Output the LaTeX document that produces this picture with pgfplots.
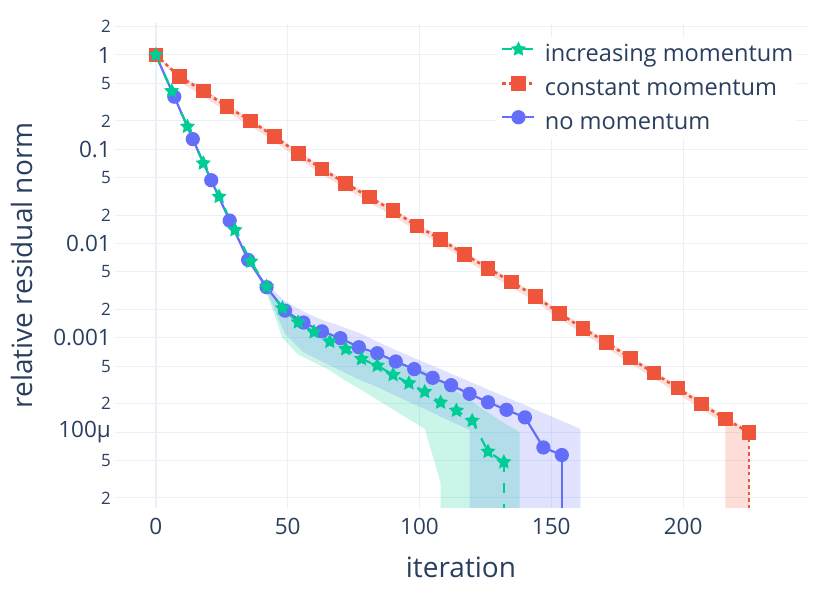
\documentclass[border=0pt]{standalone}
\usepackage{fontspec}
\setmainfont{Open Sans}
\usepackage{pgfplots}
\pgfplotsset{compat=1.18}
\definecolor{txt}{HTML}{2A3F5F}
\definecolor{gridc}{HTML}{EBF0F8}
\definecolor{pblue}{HTML}{636EFA}
\definecolor{pred}{HTML}{EF553B}
\definecolor{pgreen}{HTML}{00CC96}
\pgfdeclareplotmark{fstar}{%
  \pgfpathmoveto{\pgfpointpolar{90}{\pgfplotmarksize}}%
  \pgfpathlineto{\pgfpointpolar{126}{0.5\pgfplotmarksize}}%
  \pgfpathlineto{\pgfpointpolar{162}{\pgfplotmarksize}}%
  \pgfpathlineto{\pgfpointpolar{198}{0.5\pgfplotmarksize}}%
  \pgfpathlineto{\pgfpointpolar{234}{\pgfplotmarksize}}%
  \pgfpathlineto{\pgfpointpolar{270}{0.5\pgfplotmarksize}}%
  \pgfpathlineto{\pgfpointpolar{306}{\pgfplotmarksize}}%
  \pgfpathlineto{\pgfpointpolar{342}{0.5\pgfplotmarksize}}%
  \pgfpathlineto{\pgfpointpolar{18}{\pgfplotmarksize}}%
  \pgfpathlineto{\pgfpointpolar{54}{0.5\pgfplotmarksize}}%
  \pgfpathclose\pgfusepathqfill}
\begin{document}
\begin{tikzpicture}
\path[use as bounding box] (0,0) rectangle (831pt,593pt);
\begin{axis}[
  at={(115pt,85pt)}, anchor=south west,
  width=692pt, height=485pt, scale only axis,
  xmin=-15.5, xmax=247,
  ymode=log, ymin=1.563e-5, ymax=2.185,
  axis line style={draw=none},
  major tick length=0pt, minor tick length=0pt,
  xtick={0,50,100,150,200}, xticklabels={0,50,100,150,200},
  extra x ticks={0}, extra x tick labels={},
  extra x tick style={grid=major, major grid style={color=gridc, line width=2pt}},
  ytick={1e-4,1e-3,1e-2,1e-1,1}, yticklabels={100µ,0.001,0.01,0.1,1},
  extra y ticks={2e-5,5e-5,2e-4,5e-4,2e-3,5e-3,2e-2,5e-2,0.2,0.5,2},
  extra y tick labels={2,5,2,5,2,5,2,5,2,5,2},
  extra y tick style={grid=major, yticklabel style={font=\fontsize{17}{17}\selectfont}},
  grid=major, major grid style={color=gridc, line width=1pt},
  tick label style={font=\fontsize{22.5}{22.5}\selectfont, text=txt},
  xticklabel style={inner sep=0pt, anchor=north, yshift=-10pt},
  yticklabel style={inner sep=0pt, anchor=east, xshift=-4pt},
  xlabel={iteration}, ylabel={relative residual norm},
  label style={font=\fontsize{28}{28}\selectfont, text=txt},
  xlabel style={at={(axis description cs:0.5,-0.1443)}, anchor=base},
  ylabel style={at={(axis description cs:-0.1199,0.5)}, anchor=base},
  reverse legend,
  legend style={at={(axis description cs:0.552,0.971)}, anchor=north west,
    draw=none, fill=white, inner sep=4pt, row sep=10pt,
    font=\fontsize{23.6}{23.6}\selectfont, text=txt,
    nodes={inner sep=0pt, text height=17.5pt, text depth=5.5pt},
    /tikz/every odd column/.append style={column sep=9pt}},
  legend cell align=left,
  legend image code/.code={\draw[mark repeat=2,mark phase=2] plot coordinates {(0pt,6.5pt) (16pt,6.5pt) (32pt,6.5pt)};},
]
% bands
\addplot[draw=none, fill=pred, fill opacity=0.2, forget plot] coordinates {
(0,1.0) (9,0.62) (18,0.44) (27,0.30) (36,0.212) (45,0.144) (54,0.096) (63,0.0655) (72,0.046) (81,0.0329) (90,0.0236) (99,0.0163) (108,0.0118) (117,0.00815) (126,0.0058) (135,0.00412) (144,0.00293) (153,0.00193) (162,0.00134) (171,0.00094) (180,0.000643) (189,0.000446) (198,0.00031) (207,0.00021) (216,0.000146) (225,0.000105) (225,1e-7) (216,1e-7)
(216,0.000121) (207,0.000174) (198,0.000257) (189,0.00037) (180,0.000534) (171,0.00078) (162,0.00111) (153,0.0016) (144,0.00243) (135,0.00342) (126,0.0048) (117,0.0068) (108,0.0098) (99,0.0136) (90,0.0196) (81,0.0273) (72,0.0383) (63,0.0544) (54,0.08) (45,0.12) (36,0.176) (27,0.249) (18,0.365) (9,0.52) (0,1.0)} -- cycle;
\addplot[draw=none, fill=pblue, fill opacity=0.2, forget plot] coordinates {
(35,0.0070) (42,0.0037) (49,0.00245) (56,0.0019) (63,0.00155) (70,0.00133) (77,0.00113) (84,0.00091) (91,0.00074) (98,0.00061) (105,0.000504) (112,0.000416) (119,0.000343) (126,0.000283) (133,0.000233) (140,0.000193) (147,0.000159) (154,0.000131) (161,0.000108) (161,1e-7) (119,1e-7)
(119,0.000105) (112,0.000129) (105,0.00016) (98,0.000197) (91,0.000243) (84,0.0003) (77,0.00036) (70,0.00045) (63,0.00056) (56,0.0007) (49,0.0011) (42,0.0031) (35,0.0065)} -- cycle;
\addplot[draw=none, fill=pgreen, fill opacity=0.2, forget plot] coordinates {
(36,0.0068) (42,0.0036) (48,0.0021) (54,0.0015) (60,0.00122) (66,0.00102) (72,0.00088) (78,0.00075) (84,0.00066) (90,0.00057) (96,0.0005) (102,0.00045) (108,0.00035) (114,0.00027) (120,0.00021) (126,0.00016) (132,0.000125) (138,0.0001) (138,1e-7) (108,1e-7)
(108,0.000029) (102,0.000108) (96,0.000137) (90,0.000173) (84,0.00022) (78,0.00028) (72,0.00035) (66,0.00045) (60,0.00055) (54,0.00066) (48,0.001) (42,0.003) (36,0.0062)} -- cycle;
% no momentum
\addplot[pblue, line width=2.2pt, forget plot] coordinates {(154,0.000057) (154,1e-7)};
\addplot[pblue, line width=2.2pt, mark=*, mark size=6pt] coordinates {
(0,1) (7,0.361) (14,0.128) (21,0.0469) (28,0.0175) (35,0.0067) (42,0.00344) (49,0.00194) (56,0.00145) (63,0.00117) (70,0.00099) (77,0.000794) (84,0.000686) (91,0.00056) (98,0.000465) (105,0.000376) (112,0.000314) (119,0.000254) (126,0.000207) (133,0.000172) (140,0.000143) (147,0.0000686) (154,0.000057)};
\addlegendentry{no momentum}
% constant momentum
\addplot[pred, line width=2.6pt, dash pattern=on 3.3pt off 3.3pt, forget plot] coordinates {(225,0.000099) (225,1e-7)};
\addplot[pred, line width=2.6pt, dash pattern=on 3.3pt off 3.3pt, mark=square*, mark size=6pt, mark options={solid}] coordinates {
(0,1) (9,0.589) (18,0.415) (27,0.283) (36,0.200) (45,0.136) (54,0.0907) (63,0.0618) (72,0.0435) (81,0.0310) (90,0.0223) (99,0.0154) (108,0.0111) (117,0.00769) (126,0.00547) (135,0.00389) (144,0.00276) (153,0.00182) (162,0.00126) (171,0.00089) (180,0.000607) (189,0.000421) (198,0.000292) (207,0.000198) (216,0.000138) (225,0.000099)};
\addlegendentry{constant momentum}
% increasing momentum
\addplot[pgreen, line width=2.2pt, dash pattern=on 10pt off 11pt, forget plot] coordinates {(132,0.000048) (132,1e-7)};
\addplot[pgreen, line width=2.2pt, dash pattern=on 10pt off 11pt, mark=fstar, mark size=8pt, mark options={solid}] coordinates {
(0,1) (6,0.415) (12,0.174) (18,0.071) (24,0.0314) (30,0.0139) (36,0.00645) (42,0.00349) (48,0.00206) (54,0.00146) (60,0.00115) (66,0.00091) (72,0.00076) (78,0.000597) (84,0.000507) (90,0.000404) (96,0.00033) (102,0.000267) (108,0.000206) (114,0.000169) (120,0.000132) (126,0.000062) (132,0.000048)};
\addlegendentry{increasing momentum}
\end{axis}
\end{tikzpicture}
\end{document}
